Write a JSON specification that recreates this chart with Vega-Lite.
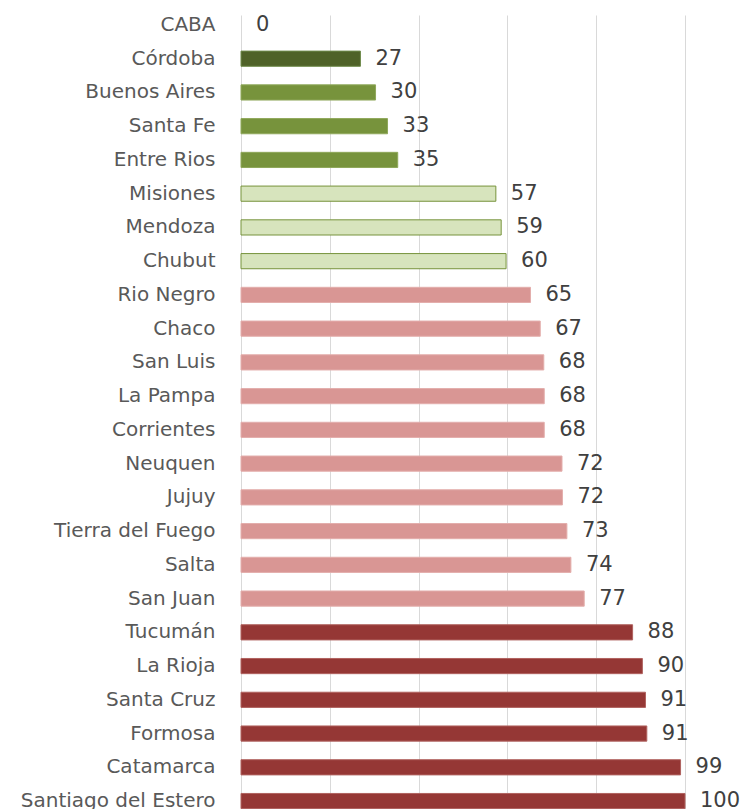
{
  "$schema": "https://vega.github.io/schema/vega-lite/v6.json",
  "autosize": {"type": "none"},
  "padding": {"left": 241, "top": 15, "right": 59, "bottom": 0},
  "width": 444,
  "height": 796,
  "background": "white",
  "config": {"view": {"stroke": null}},
  "data": {"values": [
    {"provincia": "CABA", "valor": 0, "grupo": "a"},
    {"provincia": "Córdoba", "valor": 26.9, "grupo": "b"},
    {"provincia": "Buenos Aires", "valor": 30.3, "grupo": "c"},
    {"provincia": "Santa Fe", "valor": 33.0, "grupo": "c"},
    {"provincia": "Entre Rios", "valor": 35.3, "grupo": "c"},
    {"provincia": "Misiones", "valor": 57.4, "grupo": "d"},
    {"provincia": "Mendoza", "valor": 58.6, "grupo": "d"},
    {"provincia": "Chubut", "valor": 59.7, "grupo": "d"},
    {"provincia": "Rio Negro", "valor": 65.2, "grupo": "e"},
    {"provincia": "Chaco", "valor": 67.4, "grupo": "e"},
    {"provincia": "San Luis", "valor": 68.2, "grupo": "e"},
    {"provincia": "La Pampa", "valor": 68.3, "grupo": "e"},
    {"provincia": "Corrientes", "valor": 68.3, "grupo": "e"},
    {"provincia": "Neuquen", "valor": 72.3, "grupo": "e"},
    {"provincia": "Jujuy", "valor": 72.4, "grupo": "e"},
    {"provincia": "Tierra del Fuego", "valor": 73.4, "grupo": "e"},
    {"provincia": "Salta", "valor": 74.3, "grupo": "e"},
    {"provincia": "San Juan", "valor": 77.3, "grupo": "e"},
    {"provincia": "Tucumán", "valor": 88.2, "grupo": "f"},
    {"provincia": "La Rioja", "valor": 90.4, "grupo": "f"},
    {"provincia": "Santa Cruz", "valor": 91.1, "grupo": "f"},
    {"provincia": "Formosa", "valor": 91.4, "grupo": "f"},
    {"provincia": "Catamarca", "valor": 99.0, "grupo": "f"},
    {"provincia": "Santiago del Estero", "valor": 100, "grupo": "f"}
  ]},
  "encoding": {
    "y": {
      "field": "provincia", "type": "nominal", "sort": null,
      "scale": {"paddingInner": 0.55, "paddingOuter": 0.07},
      "axis": {
        "title": null, "domain": false, "ticks": false,
        "labelFont": "DejaVu Sans", "labelFontSize": 20, "labelColor": "#595959",
        "labelPadding": 26, "labelLimit": 0
      }
    },
    "x": {
      "field": "valor", "type": "quantitative",
      "scale": {"domain": [0, 100], "nice": false, "zero": true},
      "axis": {
        "title": null, "labels": false, "ticks": false, "domain": false,
        "values": [0, 20, 40, 60, 80, 100],
        "grid": true, "gridColor": "#D9D9D9", "gridWidth": 1
      }
    }
  },
  "layer": [
    {
      "mark": {"type": "bar", "strokeWidth": 1},
      "encoding": {
        "color": {
          "field": "grupo", "type": "nominal", "legend": null,
          "scale": {"domain": ["a", "b", "c", "d", "e", "f"],
                    "range": ["transparent", "#4F6228", "#77933C", "#D7E4BD", "#D99694", "#953735"]}
        },
        "stroke": {
          "field": "grupo", "type": "nominal", "legend": null,
          "scale": {"domain": ["a", "b", "c", "d", "e", "f"],
                    "range": ["transparent", "#6E8A4A", "#8FA85A", "#77933C", "#E3AEAC", "#B0625F"]}
        }
      }
    },
    {
      "mark": {"type": "text", "align": "left", "baseline": "middle", "dx": 15,
               "font": "DejaVu Sans", "fontSize": 21, "color": "#404040"},
      "encoding": {
        "text": {"field": "valor", "type": "quantitative", "format": ".0f"}
      }
    }
  ]
}
